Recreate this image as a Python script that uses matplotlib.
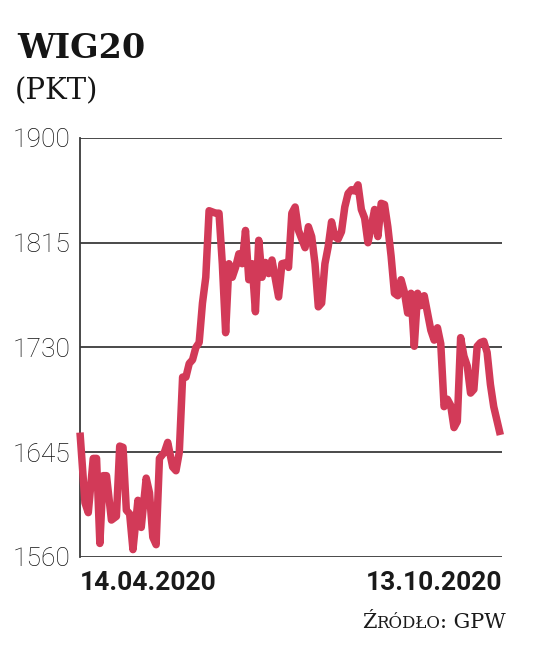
import matplotlib
matplotlib.use("Agg")
import matplotlib.pyplot as plt
from matplotlib.offsetbox import TextArea, HPacker, AnchoredOffsetbox

# trading-day index since 14.04.2020 and WIG20 level (pkt)
days = [0, 1.5, 2.5, 4, 5, 6, 7, 8, 9.5, 11, 12, 13, 14, 15, 16, 17.5, 18.5, 20, 21, 22, 23,
        24, 25.5, 26.5, 28, 29, 30, 31, 32, 33, 34, 35, 36, 37, 38, 39, 40, 41, 42, 43, 44,
        45, 46, 47, 48, 49, 50, 51, 52, 53, 54, 55, 56, 57, 58, 60, 61, 62.5, 63, 64, 65,
        66, 68, 69, 70, 71, 72, 73, 74, 75, 76, 77, 78, 79, 80, 81, 82, 83, 84, 85, 86,
        87, 88, 89, 90, 91, 92, 93, 94, 95, 96, 97, 98, 99, 100, 101, 102, 103, 104, 105,
        106, 107, 108, 109, 110, 111, 112, 113, 114, 115, 116, 117, 118, 119, 120, 121,
        122, 123, 124, 125, 127]
values = [1661, 1604, 1596, 1640, 1640, 1571, 1626, 1626, 1590, 1593, 1650, 1649, 1598, 1595,
          1566, 1606, 1584, 1624, 1612, 1576, 1570, 1640, 1645, 1653, 1633, 1630, 1645, 1706,
          1706, 1717, 1720, 1730, 1734, 1766, 1787, 1841, 1840, 1839, 1839, 1798, 1742, 1798,
          1787, 1795, 1806, 1798, 1825, 1785, 1798, 1759, 1817, 1787, 1799, 1790, 1801, 1771,
          1798, 1799, 1795, 1839, 1844, 1825, 1811, 1828, 1820, 1798, 1763, 1766, 1798, 1812,
          1832, 1820, 1818, 1824, 1844, 1855, 1858, 1857, 1862, 1842, 1835, 1815, 1828, 1842,
          1820, 1847, 1846, 1828, 1804, 1774, 1772, 1785, 1775, 1758, 1774, 1731, 1774, 1764,
          1772, 1758, 1744, 1736, 1746, 1733, 1682, 1688, 1683, 1665, 1670, 1738, 1723, 1715,
          1693, 1696, 1731, 1734, 1735, 1726, 1700, 1682, 1659]
yticks = [1560, 1645, 1730, 1815, 1900]
x_labels = ["14.04.2020", "13.10.2020"]
title = "WIG20"
unit = "(PKT)"
source_parts = ["Ź", "RÓDŁO", ": GPW"]

fig = plt.figure(figsize=(5.36, 6.53), dpi=100)
ax = fig.add_axes([80/536, 1-557/653, (502-80)/536, (557-138)/653])

for y in yticks:
    ax.axhline(y, color="#3a3a3a", lw=1.3, zorder=1)
ax.plot(days, values, color="#d23a58", lw=5.4, solid_joinstyle="round",
        solid_capstyle="butt", zorder=3, clip_on=False)

ax.set_xlim(0, 127.5)
ax.set_ylim(1560, 1900)
for s in ["top", "right", "bottom"]:
    ax.spines[s].set_visible(False)
ax.spines["left"].set_color("#3a3a3a")
ax.spines["left"].set_linewidth(1.3)
ax.set_xticks([])
ax.set_yticks(yticks)
ax.set_yticklabels([str(v) for v in yticks], fontsize=19, family="Roboto",
                   fontweight="light", color="#111111")
ax.tick_params(axis="y", length=0, pad=7)

fig.text(17/536, 1-58/653, title, fontsize=24, fontweight="heavy", family="DejaVu Serif",
         color="#151515", ha="left", va="baseline")
fig.text(15/536, 1-99/653, unit, fontsize=21, family="DejaVu Serif",
         color="#151515", ha="left", va="baseline")
fig.text(80/536, 1-590/653, x_labels[0], fontsize=19, family="Roboto", fontweight="bold",
         color="#1a1a1a", ha="left", va="baseline")
fig.text(502/536, 1-590/653, x_labels[1], fontsize=19, family="Roboto", fontweight="bold",
         color="#1a1a1a", ha="right", va="baseline")

sizes = [15, 12, 15]
areas = [TextArea(t, textprops=dict(fontsize=s, family="DejaVu Serif", color="#1a1a1a"))
         for t, s in zip(source_parts, sizes)]
box = HPacker(children=areas, align="baseline", pad=0, sep=0)
anch = AnchoredOffsetbox(loc="lower right", child=box, pad=0, frameon=False,
                         bbox_to_anchor=(506/536, 1-632/653), bbox_transform=fig.transFigure,
                         borderpad=0)
fig.add_artist(anch)

fig.savefig("out.png", dpi=100, facecolor="white")
